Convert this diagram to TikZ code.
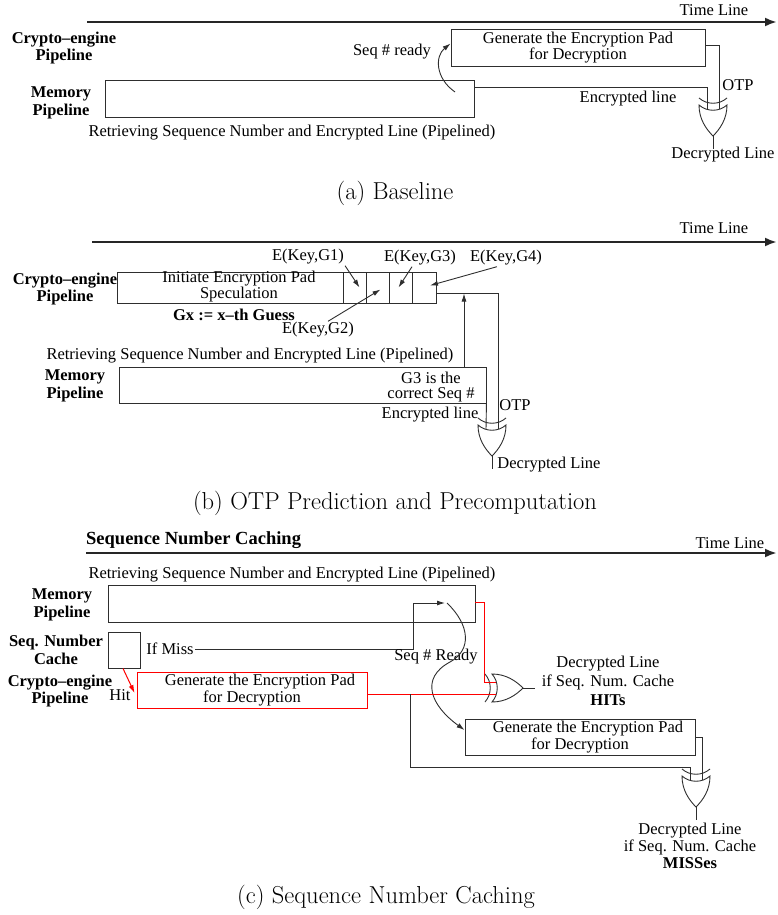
\documentclass[tikz,border=0pt]{standalone}
\usepackage{fontspec}
\newfontfamily\tms{Liberation Serif}
\usetikzlibrary{arrows.meta,calc}
\definecolor{ink}{gray}{0.18}
\begin{document}
\begin{tikzpicture}[x=1pt,y=-1pt,
  every node/.style={inner sep=1pt, text=black, font=\tms\fontsize{16.5}{17.5}\selectfont},
  lbl/.style={align=center},
  blbl/.style={align=center, font=\tms\bfseries\fontsize{16.5}{17.5}\selectfont},
  capt/.style={font=\rmfamily\fontsize{24.5}{28}\selectfont},
  conn/.style={draw=ink, line width=0.9pt},
  arr/.style={conn, -{Latex[length=8pt,width=5pt]}},
  timeline/.style={draw=black!85, line width=2.4pt, -{Latex[length=12pt,width=9pt]}},
  redline/.style={draw=red, line width=1pt},
  redarr/.style={redline, -{Latex[length=8pt,width=5pt]}},
  pbox/.style={draw=ink, line width=0.9pt, inner sep=0pt, align=center},
  gate/.style={draw=ink, line width=0.9pt},
  pics/xordown/.style={code={
    \draw[gate] (-14,0) .. controls (-14,14) and (-7,24) .. (0,31)
                .. controls (7,24) and (14,14) .. (14,0)
                .. controls (6,7) and (-6,7) .. cycle;
    \draw[gate] (-14,-7) .. controls (-6,0) and (6,0) .. (14,-7);
    \draw[gate] (0,31) -- (0,44);
    \coordinate (-in1) at (-6,4.2);
    \coordinate (-in2) at (6,4.2);
    \coordinate (-out) at (0,44);
  }},
  pics/xorright/.style={code={
    \draw[gate] (0,-14) .. controls (14,-14) and (24,-7) .. (31,0)
                .. controls (24,7) and (14,14) .. (0,14)
                .. controls (7,6) and (7,-6) .. cycle;
    \draw[gate] (-7,-14) .. controls (0,-6) and (0,6) .. (-7,14);
    \draw[gate] (31,0) -- (43,0);
    \coordinate (-in1) at (4.2,-6);
    \coordinate (-in2) at (4.2,6);
    \coordinate (-out) at (43,0);
  }}
]
\useasboundingbox (0,0) rectangle (777,915);

%% ---------- (a) Baseline ----------
\coordinate (tlA0) at (87,22);
\coordinate (tlA1) at (777,22);
\draw[timeline] (tlA0) -- (tlA1);
\node (timeA) at (714,10) {Time Line};

\node[blbl] (cryptoA) at (64,48) {Crypto–engine\\Pipeline};
\node[blbl] (memlblA) at (61,103) {Memory\\Pipeline};

\node[pbox, minimum width=369, minimum height=37] (memA) at (289.5,98.5) {};
\node (retrA) at (292,133) {Retrieving Sequence Number and Encrypted Line (Pipelined)};

\node[pbox, minimum width=254, minimum height=37, font=\tms\fontsize{16.5}{16}\selectfont]
  (genA) at (578,47.5) {Generate the Encryption Pad\\for Decryption};
\node (readyA) at (392,52) {Seq \# ready};
\coordinate (readyA0) at (455,92);
\draw[arr] (readyA0) .. controls (435,78) and (435,56) .. ($(genA.west)+(0,-4)$);

\pic (gA) at (713,105) {xordown};
\draw[conn] ($(memA.north east)+(0,8)$) -| (gA-in1);
\draw[conn] ($(genA.east)+(0,-2)$) -| (gA-in2);
\node (encA) at (628,99) {Encrypted line};
\node (otpA) at (738,85) {OTP};
\node (decA) at (723,155) {Decrypted Line};

\node[capt] (captA) at (395,193) {(a) Baseline};

%% ---------- (b) OTP Prediction and Precomputation ----------
\coordinate (tlB0) at (92,242);
\coordinate (tlB1) at (777,242);
\draw[timeline] (tlB0) -- (tlB1);
\node (timeB) at (714,228) {Time Line};

\node[blbl] (cryptoB) at (65,289) {Crypto–engine\\Pipeline};
\node[pbox, minimum width=226, minimum height=31] (specB) at (230,287.5) {};
\node[lbl, font=\tms\fontsize{16.5}{13}\selectfont] (specT) at (239,287) {Initiate Encryption Pad\\Speculation};
\node[pbox, minimum width=23, minimum height=31] (cell1) at (354.5,287.5) {};
\node[pbox, minimum width=23, minimum height=31] (cell2) at (377.5,287.5) {};
\node[pbox, minimum width=23, minimum height=31] (cell3) at (400.5,287.5) {};
\node[pbox, minimum width=24, minimum height=31] (cell4) at (424,287.5) {};

\node (g1lbl) at (308,257) {E(Key,G1)};
\node (g2lbl) at (318,330) {E(Key,G2)};
\node (g3lbl) at (420,258) {E(Key,G3)};
\node (g4lbl) at (506,258) {E(Key,G4)};
\draw[arr] (g1lbl.south east) -- ($(cell1.center)+(5,0)$);
\draw[arr] ($(g2lbl.north)+(10,0)$) -- ($(cell2.center)+(3,2)$);
\draw[arr] ($(g3lbl.south)+(-8,0)$) -- ($(cell3.center)+(-2,0)$);
\draw[arr] ($(g4lbl.south west)+(28,0)$) -- ($(cell4.center)+(6,-2)$);

\node[blbl] (guess) at (234,315) {Gx := x–th Guess};

\node (retrB) at (250,356) {Retrieving Sequence Number and Encrypted Line (Pipelined)};
\node[blbl] (memlblB) at (75,386) {Memory\\Pipeline};
\node[pbox, minimum width=367, minimum height=36] (memB) at (302.5,385) {};
\node[lbl, inner sep=0pt, font=\tms\fontsize{16.5}{15}\selectfont] (g3ok) at (431,387) {G3 is the\\correct Seq \#};

\pic (gB) at (492,425) {xordown};
\coordinate (otpB) at (464,293.5);
\draw[conn] ($(cell4.east)+(0,6)$) -| (gB-in2);
\draw[arr] (memB.north -| otpB) -- (otpB);
\draw[conn] (memB.south east) -- (gB-in1);
\node[inner sep=0pt] (encB) at (430,415) {Encrypted line};
\node (otpBl) at (515,405) {OTP};
\node (decB) at (549,465) {Decrypted Line};

\node[capt] (captB) at (395,503) {(b) OTP Prediction and Precomputation};

%% ---------- (c) Sequence Number Caching ----------
\node[blbl, anchor=west, font=\tms\bfseries\fontsize{18.5}{20}\selectfont] (titleC) at (85,540) {Sequence Number Caching};
\coordinate (tlC0) at (86,553);
\coordinate (tlC1) at (777,553);
\draw[timeline] (tlC0) -- (tlC1);
\node (timeC) at (730,543) {Time Line};

\node (retrC) at (292,575) {Retrieving Sequence Number and Encrypted Line (Pipelined)};
\node[blbl] (memlblC) at (62,605) {Memory\\Pipeline};
\node[pbox, minimum width=367, minimum height=37] (memC) at (291.5,603.5) {};

\node[blbl] (seqlbl) at (56,650) {Seq. Number\\Cache};
\node[pbox, minimum width=32, minimum height=36] (seqbox) at (124,650) {};
\node (miss) at (170,649) {If Miss};

\node[blbl] (cryptoC) at (60,691) {Crypto–engine\\Pipeline};
\node (hit) at (120,695) {Hit};
\node[pbox, draw=red, line width=0.9pt, minimum width=230, minimum height=36,
      font=\tms\fontsize{16.5}{17}\selectfont] (redbox) at (252,690)
      {\hspace*{16pt}Generate the Encryption Pad\\for Decryption};
\draw[redarr] ($(seqbox.south)+(-1,0)$) -- ($(redbox.west)+(-2,3)$);

\coordinate (sready) at (447,603);
\draw[arr] (miss.east) -| ($(sready)+(-34,0)$) -- ($(sready)+(-2,0)$);
\node (readyC) at (436,657) {Seq \# Ready};

\node[pbox, minimum width=230, minimum height=36, font=\tms\fontsize{16.5}{17}\selectfont]
  (gen2) at (580,737) {\hspace*{16pt}Generate the Encryption Pad\\for Decryption};
\draw[arr] (sready) .. controls (470,625) and (472,650) .. (450,662)
                    .. controls (420,678) and (430,705) .. ($(gen2.west)+(0,-7)$);

\pic (gC1) at (492,688) {xorright};
\draw[redline] ($(memC.north east)+(0,18)$) -- ++(9,0) |- (gC1-in1);
\draw[redline] (redbox.east |- gC1-in2) -- (gC1-in2);
\node[lbl, font=\tms\fontsize{16.5}{19}\selectfont] (decHit) at (608,681)
  {Decrypted Line\\if Seq. Num. Cache\\\textbf{HITs}};

\coordinate (jn) at ($(redbox.east |- gC1-in2)+(43,0)$);
\pic (gC2) at (696,776) {xordown};
\draw[conn] (jn) |- ($(gC2-in1)+(0,-13)$) -- (gC2-in1);
\draw[conn] (gen2.east) -| (gC2-in2);
\node[lbl, font=\tms\fontsize{16.5}{17}\selectfont] (decMiss) at (690,846)
  {Decrypted Line\\if Seq. Num. Cache\\\textbf{MISSes}};

\node[capt] (captC) at (386,897) {(c) Sequence Number Caching};
\end{tikzpicture}
\end{document}
